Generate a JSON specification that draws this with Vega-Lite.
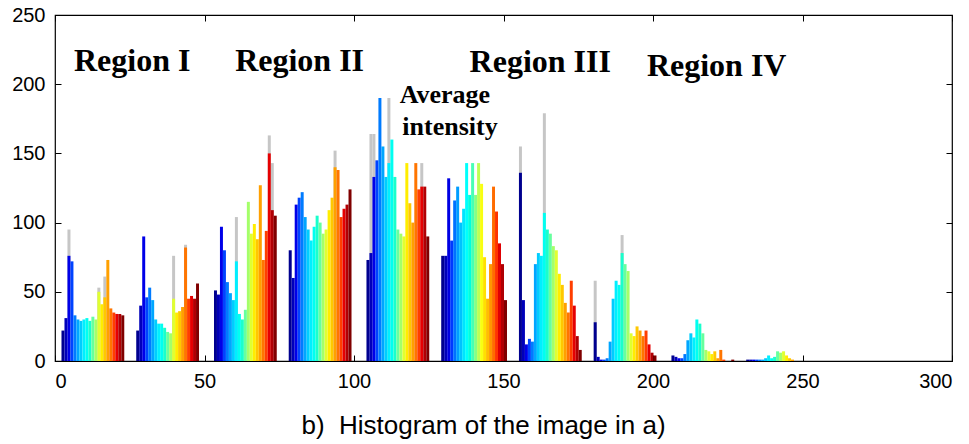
{
  "$schema": "https://vega.github.io/schema/vega-lite/v6.json",
  "width": 897,
  "height": 346,
  "autosize": {"type": "none"},
  "padding": {"left": 55, "top": 15, "right": 17, "bottom": 83},
  "background": "white",
  "config": {
    "view": {"stroke": "#000000", "strokeWidth": 1.2},
    "axis": {
      "grid": false,
      "domain": false,
      "tickColor": "#000000",
      "tickWidth": 1,
      "tickSize": 6,
      "offset": -6,
      "labelColor": "#000000",
      "labelFont": "Liberation Sans",
      "labelFontSize": 20,
      "labelPadding": 10
    }
  },
  "datasets": {
    "hist": [
      {"level": 2, "count": 22, "tone": 0},
      {"level": 3, "count": 31, "tone": 0.05},
      {"level": 4, "count": 76, "tone": 0.1, "peak": 95},
      {"level": 5, "count": 72, "tone": 0.15},
      {"level": 6, "count": 33, "tone": 0.2},
      {"level": 7, "count": 30, "tone": 0.25},
      {"level": 8, "count": 29, "tone": 0.3},
      {"level": 9, "count": 30, "tone": 0.35},
      {"level": 10, "count": 31, "tone": 0.4},
      {"level": 11, "count": 29, "tone": 0.45},
      {"level": 12, "count": 32, "tone": 0.5},
      {"level": 13, "count": 30, "tone": 0.55},
      {"level": 14, "count": 50, "tone": 0.6, "peak": 53},
      {"level": 15, "count": 41, "tone": 0.65},
      {"level": 16, "count": 46, "tone": 0.7, "peak": 61},
      {"level": 17, "count": 73, "tone": 0.75},
      {"level": 18, "count": 38, "tone": 0.8},
      {"level": 19, "count": 35, "tone": 0.85},
      {"level": 20, "count": 34, "tone": 0.9},
      {"level": 21, "count": 34, "tone": 0.95},
      {"level": 22, "count": 33, "tone": 1},
      {"level": 27, "count": 22, "tone": 0},
      {"level": 28, "count": 40, "tone": 0.05},
      {"level": 29, "count": 90, "tone": 0.1},
      {"level": 30, "count": 46, "tone": 0.15},
      {"level": 31, "count": 53, "tone": 0.2},
      {"level": 32, "count": 44, "tone": 0.25},
      {"level": 33, "count": 30, "tone": 0.3},
      {"level": 34, "count": 27, "tone": 0.35},
      {"level": 35, "count": 27, "tone": 0.4},
      {"level": 36, "count": 24, "tone": 0.45},
      {"level": 37, "count": 21, "tone": 0.5},
      {"level": 38, "count": 20, "tone": 0.55},
      {"level": 39, "count": 45, "tone": 0.6, "peak": 76},
      {"level": 40, "count": 35, "tone": 0.65},
      {"level": 41, "count": 36, "tone": 0.7},
      {"level": 42, "count": 39, "tone": 0.75},
      {"level": 43, "count": 82, "tone": 0.8, "peak": 84},
      {"level": 44, "count": 45, "tone": 0.85},
      {"level": 45, "count": 47, "tone": 0.9},
      {"level": 46, "count": 45, "tone": 0.95},
      {"level": 47, "count": 56, "tone": 1},
      {"level": 53, "count": 51, "tone": 0},
      {"level": 54, "count": 48, "tone": 0.05},
      {"level": 55, "count": 97, "tone": 0.1},
      {"level": 56, "count": 80, "tone": 0.15},
      {"level": 57, "count": 57, "tone": 0.2},
      {"level": 58, "count": 49, "tone": 0.25},
      {"level": 59, "count": 44, "tone": 0.3},
      {"level": 60, "count": 72, "tone": 0.35, "peak": 104},
      {"level": 61, "count": 34, "tone": 0.4},
      {"level": 62, "count": 30, "tone": 0.45},
      {"level": 63, "count": 37, "tone": 0.5},
      {"level": 64, "count": 115, "tone": 0.55},
      {"level": 65, "count": 92, "tone": 0.6},
      {"level": 66, "count": 99, "tone": 0.65},
      {"level": 67, "count": 88, "tone": 0.7},
      {"level": 68, "count": 127, "tone": 0.75},
      {"level": 69, "count": 73, "tone": 0.8},
      {"level": 70, "count": 94, "tone": 0.85},
      {"level": 71, "count": 150, "tone": 0.9, "peak": 163},
      {"level": 72, "count": 109, "tone": 0.95, "peak": 143},
      {"level": 73, "count": 105, "tone": 1},
      {"level": 78, "count": 80, "tone": 0},
      {"level": 79, "count": 60, "tone": 0.05},
      {"level": 80, "count": 113, "tone": 0.1},
      {"level": 81, "count": 118, "tone": 0.15},
      {"level": 82, "count": 122, "tone": 0.2},
      {"level": 83, "count": 104, "tone": 0.25},
      {"level": 84, "count": 95, "tone": 0.3},
      {"level": 85, "count": 87, "tone": 0.35},
      {"level": 86, "count": 97, "tone": 0.4},
      {"level": 87, "count": 105, "tone": 0.45},
      {"level": 88, "count": 100, "tone": 0.5},
      {"level": 89, "count": 92, "tone": 0.55},
      {"level": 90, "count": 95, "tone": 0.6},
      {"level": 91, "count": 109, "tone": 0.65},
      {"level": 92, "count": 118, "tone": 0.7},
      {"level": 93, "count": 140, "tone": 0.75, "peak": 152},
      {"level": 94, "count": 138, "tone": 0.8},
      {"level": 95, "count": 104, "tone": 0.85},
      {"level": 96, "count": 110, "tone": 0.9},
      {"level": 97, "count": 113, "tone": 0.95},
      {"level": 98, "count": 124, "tone": 1},
      {"level": 104, "count": 73, "tone": 0},
      {"level": 105, "count": 78, "tone": 0.05, "peak": 164},
      {"level": 106, "count": 133, "tone": 0.1, "peak": 164},
      {"level": 107, "count": 145, "tone": 0.15},
      {"level": 108, "count": 190, "tone": 0.2},
      {"level": 109, "count": 155, "tone": 0.25},
      {"level": 110, "count": 133, "tone": 0.3},
      {"level": 111, "count": 143, "tone": 0.35, "peak": 190},
      {"level": 112, "count": 160, "tone": 0.4},
      {"level": 113, "count": 133, "tone": 0.45},
      {"level": 114, "count": 95, "tone": 0.5},
      {"level": 115, "count": 92, "tone": 0.55},
      {"level": 116, "count": 90, "tone": 0.6},
      {"level": 117, "count": 143, "tone": 0.65},
      {"level": 118, "count": 114, "tone": 0.7},
      {"level": 119, "count": 100, "tone": 0.75},
      {"level": 120, "count": 143, "tone": 0.8},
      {"level": 121, "count": 124, "tone": 0.85},
      {"level": 122, "count": 126, "tone": 0.9, "peak": 143},
      {"level": 123, "count": 126, "tone": 0.95},
      {"level": 124, "count": 90, "tone": 1},
      {"level": 129, "count": 76, "tone": 0},
      {"level": 130, "count": 76, "tone": 0.048},
      {"level": 131, "count": 132, "tone": 0.095},
      {"level": 132, "count": 87, "tone": 0.143},
      {"level": 133, "count": 116, "tone": 0.19},
      {"level": 134, "count": 126, "tone": 0.238},
      {"level": 135, "count": 100, "tone": 0.286},
      {"level": 136, "count": 110, "tone": 0.333},
      {"level": 137, "count": 143, "tone": 0.381},
      {"level": 138, "count": 120, "tone": 0.429},
      {"level": 139, "count": 143, "tone": 0.476},
      {"level": 140, "count": 120, "tone": 0.524},
      {"level": 141, "count": 143, "tone": 0.571},
      {"level": 142, "count": 128, "tone": 0.619},
      {"level": 143, "count": 75, "tone": 0.667},
      {"level": 144, "count": 45, "tone": 0.714},
      {"level": 145, "count": 70, "tone": 0.762},
      {"level": 146, "count": 126, "tone": 0.81},
      {"level": 147, "count": 108, "tone": 0.857},
      {"level": 148, "count": 85, "tone": 0.905},
      {"level": 149, "count": 70, "tone": 0.952},
      {"level": 150, "count": 44, "tone": 1},
      {"level": 155, "count": 136, "tone": 0, "peak": 155},
      {"level": 156, "count": 44, "tone": 0.05},
      {"level": 157, "count": 12, "tone": 0.1},
      {"level": 158, "count": 16, "tone": 0.15},
      {"level": 159, "count": 14, "tone": 0.2},
      {"level": 160, "count": 70, "tone": 0.25},
      {"level": 161, "count": 78, "tone": 0.3},
      {"level": 162, "count": 76, "tone": 0.35},
      {"level": 163, "count": 107, "tone": 0.4, "peak": 179},
      {"level": 164, "count": 95, "tone": 0.45},
      {"level": 165, "count": 92, "tone": 0.5},
      {"level": 166, "count": 83, "tone": 0.55},
      {"level": 167, "count": 80, "tone": 0.6},
      {"level": 168, "count": 63, "tone": 0.65},
      {"level": 169, "count": 55, "tone": 0.7},
      {"level": 170, "count": 42, "tone": 0.75},
      {"level": 171, "count": 35, "tone": 0.8},
      {"level": 172, "count": 58, "tone": 0.85},
      {"level": 173, "count": 40, "tone": 0.9},
      {"level": 174, "count": 18, "tone": 0.95},
      {"level": 175, "count": 8, "tone": 1},
      {"level": 180, "count": 28, "tone": 0, "peak": 58},
      {"level": 181, "count": 3, "tone": 0.05},
      {"level": 182, "count": 1, "tone": 0.1},
      {"level": 183, "count": 1, "tone": 0.15},
      {"level": 184, "count": 2, "tone": 0.2},
      {"level": 185, "count": 14, "tone": 0.25},
      {"level": 186, "count": 45, "tone": 0.3},
      {"level": 187, "count": 58, "tone": 0.35},
      {"level": 188, "count": 55, "tone": 0.4},
      {"level": 189, "count": 78, "tone": 0.45, "peak": 91},
      {"level": 190, "count": 70, "tone": 0.5},
      {"level": 191, "count": 65, "tone": 0.55},
      {"level": 192, "count": 20, "tone": 0.6},
      {"level": 193, "count": 18, "tone": 0.65},
      {"level": 194, "count": 25, "tone": 0.7},
      {"level": 195, "count": 22, "tone": 0.75},
      {"level": 196, "count": 18, "tone": 0.8},
      {"level": 197, "count": 22, "tone": 0.85},
      {"level": 198, "count": 12, "tone": 0.9},
      {"level": 199, "count": 6, "tone": 0.95},
      {"level": 200, "count": 4, "tone": 1},
      {"level": 206, "count": 4, "tone": 0},
      {"level": 207, "count": 3, "tone": 0.05},
      {"level": 208, "count": 2, "tone": 0.1},
      {"level": 209, "count": 2, "tone": 0.15},
      {"level": 210, "count": 5, "tone": 0.2},
      {"level": 211, "count": 15, "tone": 0.25},
      {"level": 212, "count": 20, "tone": 0.3},
      {"level": 213, "count": 17, "tone": 0.35},
      {"level": 214, "count": 30, "tone": 0.4},
      {"level": 215, "count": 27, "tone": 0.45},
      {"level": 216, "count": 20, "tone": 0.5},
      {"level": 217, "count": 8, "tone": 0.55},
      {"level": 218, "count": 7, "tone": 0.6},
      {"level": 219, "count": 5, "tone": 0.65},
      {"level": 220, "count": 7, "tone": 0.7},
      {"level": 221, "count": 2, "tone": 0.75},
      {"level": 222, "count": 8, "tone": 0.8},
      {"level": 223, "count": 1, "tone": 0.85},
      {"level": 226, "count": 1, "tone": 1},
      {"level": 231, "count": 1, "tone": 0},
      {"level": 232, "count": 1, "tone": 0.05},
      {"level": 233, "count": 1, "tone": 0.1},
      {"level": 234, "count": 1, "tone": 0.15},
      {"level": 235, "count": 1, "tone": 0.2},
      {"level": 236, "count": 1, "tone": 0.25},
      {"level": 237, "count": 2, "tone": 0.3},
      {"level": 238, "count": 4, "tone": 0.35},
      {"level": 239, "count": 2, "tone": 0.4},
      {"level": 240, "count": 3, "tone": 0.45},
      {"level": 241, "count": 7, "tone": 0.5},
      {"level": 242, "count": 6, "tone": 0.55},
      {"level": 243, "count": 7, "tone": 0.6},
      {"level": 244, "count": 4, "tone": 0.65},
      {"level": 245, "count": 2, "tone": 0.7},
      {"level": 246, "count": 1, "tone": 0.75}
    ]
  },
  "resolve": {"axis": {"x": "independent", "y": "independent"}},
  "layer": [
    {
      "data": {"name": "hist"},
      "mark": {"type": "bar", "color": "#c6c6c6", "strokeWidth": 0, "binSpacing": 0},
      "encoding": {
        "x": {
          "field": "level", "type": "quantitative",
          "bin": {"binned": true, "step": 1},
          "scale": {"domain": [0, 300], "nice": false, "zero": false},
          "axis": {"orient": "top", "labels": false, "values": [0, 50, 100, 150, 200, 250, 300], "title": null}
        },
        "y": {
          "field": "peak", "type": "quantitative",
          "scale": {"domain": [0, 250], "nice": false},
          "axis": {"orient": "right", "labels": false, "values": [0, 50, 100, 150, 200, 250], "title": null}
        }
      }
    },
    {
      "data": {"name": "hist"},
      "mark": {"type": "bar", "strokeWidth": 0, "binSpacing": 0},
      "encoding": {
        "x": {
          "field": "level", "type": "quantitative",
          "bin": {"binned": true, "step": 1},
          "scale": {"domain": [0, 300], "nice": false, "zero": false},
          "axis": {
            "orient": "bottom",
            "values": [0, 50, 100, 150, 200, 250, 300],
            "title": "b)\u00a0 Histogram of the image in a)",
            "titleFont": "Liberation Sans",
            "titleFontSize": 26,
            "titleFontWeight": "normal",
            "titleColor": "#000000",
            "titleX": 428,
            "titleY": 78,
            "titleAlign": "center",
            "titleBaseline": "alphabetic"
          }
        },
        "y": {
          "field": "count", "type": "quantitative",
          "scale": {"domain": [0, 250], "nice": false},
          "axis": {"orient": "left", "values": [0, 50, 100, 150, 200, 250], "title": null}
        },
        "color": {
          "field": "tone", "type": "quantitative",
          "scale": {
            "domain": [0, 0.125, 0.375, 0.625, 0.875, 1],
            "range": ["#00008f", "#0000ff", "#00ffff", "#ffff00", "#ff0000", "#800000"]
          },
          "legend": null
        }
      }
    },
    {
      "data": {"values": [
        {"label": "Region I", "x": 25.8, "y": 209.5},
        {"label": "Region II", "x": 81.8, "y": 209.5},
        {"label": "Region III", "x": 162.3, "y": 209},
        {"label": "Region IV", "x": 221.3, "y": 206}
      ]},
      "mark": {"type": "text", "font": "Liberation Serif", "fontWeight": "bold", "fontSize": 32, "align": "center", "baseline": "alphabetic", "color": "#000000"},
      "encoding": {
        "x": {"field": "x", "type": "quantitative", "axis": null},
        "y": {"field": "y", "type": "quantitative", "axis": null},
        "text": {"field": "label"}
      }
    },
    {
      "data": {"values": [
        {"label": "Average", "x": 130.4, "y": 186.4},
        {"label": "intensity", "x": 132.1, "y": 163.3}
      ]},
      "mark": {"type": "text", "font": "Liberation Serif", "fontWeight": "bold", "fontSize": 26, "align": "center", "baseline": "alphabetic", "color": "#000000"},
      "encoding": {
        "x": {"field": "x", "type": "quantitative", "axis": null},
        "y": {"field": "y", "type": "quantitative", "axis": null},
        "text": {"field": "label"}
      }
    }
  ]
}
